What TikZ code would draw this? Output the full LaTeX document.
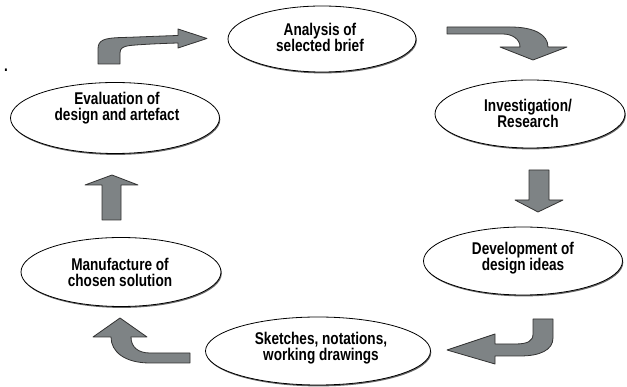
\documentclass[tikz,border=0pt]{standalone}
\usepackage{fontspec}
\setmainfont{Liberation Sans}[FakeStretch=0.8]
\usetikzlibrary{shapes.geometric,shadows}
\definecolor{arrowfill}{RGB}{126,131,133}
\definecolor{arrowline}{RGB}{50,50,50}
\tikzset{
  oval/.style={ellipse, draw=black, line width=0.8pt, fill=white, inner sep=0pt,
    drop shadow={shadow xshift=0.8pt, shadow yshift=-1.4pt, opacity=1, fill=black!60}},
  lbl/.style={font=\bfseries\fontsize{17}{16}\selectfont, align=center, inner sep=0pt},
  blockarrow/.style={fill=arrowfill, draw=arrowline, line width=0.8pt, line join=round}
}
\begin{document}
\begin{tikzpicture}[x=1pt,y=-1pt]
\useasboundingbox (0,0) rectangle (627,387);

% ellipses
\node[oval, minimum width=188pt, minimum height=66pt] (ana) at (322,39) {};
\node[oval, minimum width=190pt, minimum height=68pt] (inv) at (530,114) {};
\node[oval, minimum width=199pt, minimum height=68pt] (dev) at (523,261) {};
\node[oval, minimum width=225pt, minimum height=68pt] (ske) at (318,351) {};
\node[oval, minimum width=200pt, minimum height=69pt] (man) at (121,272) {};
\node[oval, minimum width=209pt, minimum height=71pt] (eva) at (115,118) {};

% labels
\node[lbl] (anaT) at (320,37) {Analysis of\\selected brief};
\node[lbl] (invT) at (528,113) {Investigation/\\Research};
\node[lbl] (devT) at (523,258) {Development of\\design ideas};
\node[lbl] (skeT) at (321,348) {Sketches, notations,\\working drawings};
\node[lbl] (manT) at (120,272) {Manufacture of\\chosen solution};
\node[lbl] (evaT) at (117,108) {Evaluation of\\design and artefact};
\node[lbl, anchor=base] (dot) at (6,72) {.};

% block arrows
% evaluation -> analysis (up, then right)
\path[blockarrow] (98,64) -- (98,49) .. controls (98,40) and (104,38) .. (122,37.5)
  .. controls (140,37) and (160,36) .. (178,35.5) -- (178,29) -- (207,38.5) -- (178,48)
  -- (178,43) .. controls (160,43.5) and (140,44.5) .. (130,45.5)
  .. controls (123,46.5) and (120,48) .. (120,53) -- (120,64) -- cycle;
% analysis -> investigation (right, then down)
\path[blockarrow] (447,27) -- (510,27) .. controls (535,27) and (548,35) .. (548,47)
  -- (567,47) -- (533,60) -- (500,47) -- (520,47)
  .. controls (520,39) and (512,34) .. (503,34) -- (447,34) -- cycle;
% investigation -> development (down)
\path[blockarrow] (529,170) -- (549,170) -- (549,200) -- (563,200) -- (538,212)
  -- (515,200) -- (529,200) -- cycle;
% development -> sketches (down, then left)
\path[blockarrow] (533,319) -- (553,319) -- (553,338) .. controls (553,350) and (540,356) .. (520,356)
  -- (495,356) -- (495,364) -- (447,350) -- (495,334) -- (495,344) -- (515,344)
  .. controls (528,344) and (533,341) .. (533,334) -- cycle;
% sketches -> manufacture (left, then up)
\path[blockarrow] (190,353) -- (190,363) -- (150,363) .. controls (125,363) and (111,352) .. (111,337)
  -- (93,337) -- (120,318) -- (147,337) -- (131,337)
  .. controls (131,347) and (138,353) .. (150,353) -- cycle;
% manufacture -> evaluation (up)
\path[blockarrow] (102,220) -- (102,185) -- (85,185) -- (112,175) -- (138,185)
  -- (121,185) -- (121,220) -- cycle;
\end{tikzpicture}
\end{document}
